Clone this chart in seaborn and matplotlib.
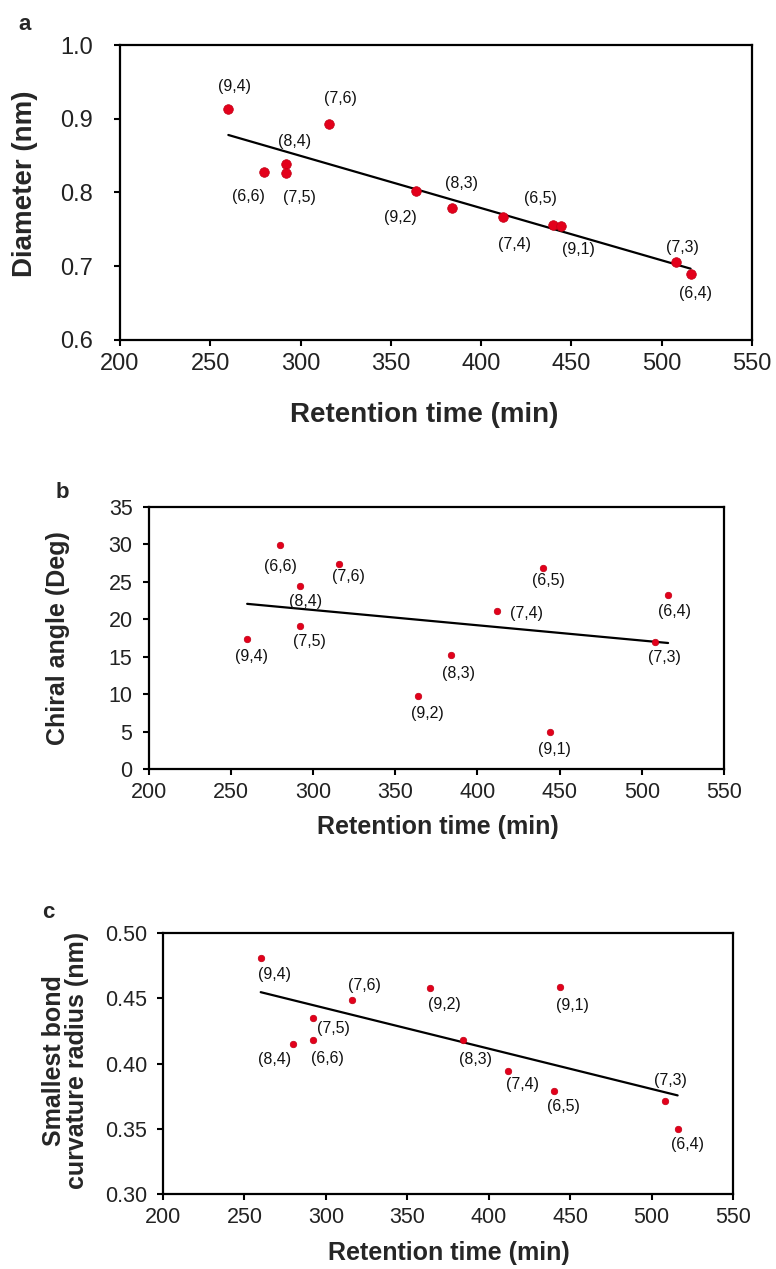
import matplotlib
matplotlib.use("Agg")
import matplotlib.pyplot as plt
from matplotlib.ticker import FormatStrFormatter, MultipleLocator
import seaborn as sns
import pandas as pd

# ---------------- data ----------------
retention = [260, 280, 292, 292, 316, 364, 384, 412, 440, 444, 508, 516]

labels_a = ["(9,4)", "(6,6)", "(8,4)", "(7,5)", "(7,6)", "(9,2)", "(8,3)", "(7,4)", "(6,5)", "(9,1)", "(7,3)", "(6,4)"]
diameter = [0.913, 0.828, 0.839, 0.826, 0.893, 0.802, 0.779, 0.767, 0.756, 0.755, 0.706, 0.689]

labels_b = ["(9,4)", "(6,6)", "(8,4)", "(7,5)", "(7,6)", "(9,2)", "(8,3)", "(7,4)", "(6,5)", "(9,1)", "(7,3)", "(6,4)"]
chiral = [17.4, 29.9, 24.4, 19.1, 27.4, 9.8, 15.2, 21.1, 26.9, 5.0, 16.9, 23.3]

labels_c = ["(9,4)", "(8,4)", "(7,5)", "(6,6)", "(7,6)", "(9,2)", "(8,3)", "(7,4)", "(6,5)", "(9,1)", "(7,3)", "(6,4)"]
radius = [0.481, 0.415, 0.435, 0.418, 0.449, 0.458, 0.418, 0.394, 0.379, 0.459, 0.371, 0.350]

x_ticks = [200, 250, 300, 350, 400, 450, 500, 550]

# label offsets in pixels (dx, dy)
off_a = [(6, 23), (-16, -25), (8, 22), (13, -24), (11, 25), (-16, -26), (9, 24),
         (12, -28), (-13, 26), (18, -24), (6, 14), (5, -19)]
off_b = [(4, -18), (0, -21), (6, -15), (10, -15), (9, -13), (9, -18), (7, -18),
         (29, -2), (5, -13), (5, -18), (9, -15), (6, -17)]
off_c = [(14, -17), (-19, -16), (21, -11), (15, -18), (13, 14), (14, -17), (13, -19),
         (14, -13), (10, -16), (12, -19), (6, 21), (10, -16)]

# ---------------- style ----------------
sns.set_theme(style="white")
plt.rcParams["font.family"] = ["Liberation Sans", "DejaVu Sans"]
plt.rcParams["axes.linewidth"] = 1.6
plt.rcParams["axes.edgecolor"] = "black"

RED = "#e3001b"
EDGE = "#c00015"

W, H = 776, 1269
fig = plt.figure(figsize=(W / 100, H / 100), dpi=100)


def px_axes(l, r, t, b):
    return fig.add_axes([l / W, 1 - b / H, (r - l) / W, (b - t) / H])


def style_axis(ax, tick_fs, ypad):
    for s in ax.spines.values():
        s.set_visible(True)
        s.set_linewidth(1.6)
        s.set_color("black")
    ax.tick_params(axis="both", which="major", direction="out", length=4.5, width=1.5,
                   color="black", labelcolor="#222222", labelsize=tick_fs)
    ax.tick_params(axis="y", pad=ypad, left=True, right=False)
    ax.tick_params(axis="x", pad=5, bottom=True, top=False)
    ax.set_xlim(200, 550)
    ax.xaxis.set_major_locator(MultipleLocator(50))


def draw_panel(ax, y, labels, offs, msize, lab_fs):
    df = pd.DataFrame({"Retention": retention, "Value": y, "Label": labels})
    sns.regplot(data=df, x="Retention", y="Value", ax=ax, scatter=False, ci=None,
                truncate=True, line_kws={"color": "black", "lw": 1.6})
    sns.scatterplot(data=df, x="Retention", y="Value", ax=ax, s=msize, color=RED,
                    edgecolor=EDGE, linewidth=0.5, zorder=3)
    for xv, yv, lab, (dx, dy) in zip(retention, y, labels, offs):
        ax.annotate(lab, (xv, yv), xytext=(dx, dy), textcoords="offset pixels",
                    ha="center", va="center", fontsize=lab_fs, color="#111111")


# ---------------- panel a ----------------
ax_a = px_axes(120, 752, 45, 340)
draw_panel(ax_a, diameter, labels_a, off_a, 48, 11.5)
style_axis(ax_a, 17, 15)
ax_a.set_ylim(0.6, 1.0)
ax_a.yaxis.set_major_locator(MultipleLocator(0.1))
ax_a.yaxis.set_major_formatter(FormatStrFormatter("%.1f"))
ax_a.set_xticks(x_ticks)
ax_a.set_xlabel("Retention time (min)", fontsize=20, fontweight="bold")
ax_a.set_ylabel("Diameter (nm)", fontsize=20, fontweight="bold")
ax_a.xaxis.set_label_coords(0.481, -0.254)
ax_a.xaxis.label.set_va("center")
ax_a.yaxis.set_label_coords(-0.150, 0.53)
ax_a.yaxis.label.set_va("center")

# ---------------- panel b ----------------
ax_b = px_axes(148.5, 724, 507, 769)
draw_panel(ax_b, chiral, labels_b, off_b, 22, 11.5)
style_axis(ax_b, 15.5, 7)
ax_b.set_ylim(0, 35)
ax_b.yaxis.set_major_locator(MultipleLocator(5))
ax_b.set_xticks(x_ticks)
ax_b.set_xlabel("Retention time (min)", fontsize=18, fontweight="bold")
ax_b.set_ylabel("Chiral angle (Deg)", fontsize=18, fontweight="bold")
ax_b.xaxis.set_label_coords(0.503, -0.221)
ax_b.xaxis.label.set_va("center")
ax_b.yaxis.set_label_coords(-0.157, 0.5)
ax_b.yaxis.label.set_va("center")

# ---------------- panel c ----------------
ax_c = px_axes(163, 733, 933, 1194)
draw_panel(ax_c, radius, labels_c, off_c, 22, 11.5)
style_axis(ax_c, 15.5, 7)
ax_c.set_ylim(0.30, 0.50)
ax_c.yaxis.set_major_locator(MultipleLocator(0.05))
ax_c.yaxis.set_major_formatter(FormatStrFormatter("%.2f"))
ax_c.set_xticks(x_ticks)
ax_c.set_xlabel("Retention time (min)", fontsize=18, fontweight="bold")
ax_c.set_ylabel("Smallest bond\ncurvature radius (nm)", fontsize=18, fontweight="bold",
                linespacing=0.95)
ax_c.xaxis.set_label_coords(0.502, -0.226)
ax_c.xaxis.label.set_va("center")
ax_c.yaxis.set_label_coords(-0.171, 0.513)
ax_c.yaxis.label.set_va("center")

# ---------------- panel letters ----------------
fig.text(25 / W, 1 - 25 / H, "a", fontsize=16, fontweight="bold", ha="center", va="center")
fig.text(62 / W, 1 - 492 / H, "b", fontsize=16, fontweight="bold", ha="center", va="center")
fig.text(48 / W, 1 - 912 / H, "c", fontsize=16, fontweight="bold", ha="center", va="center")

fig.savefig("out.png", dpi=100, facecolor="white")
